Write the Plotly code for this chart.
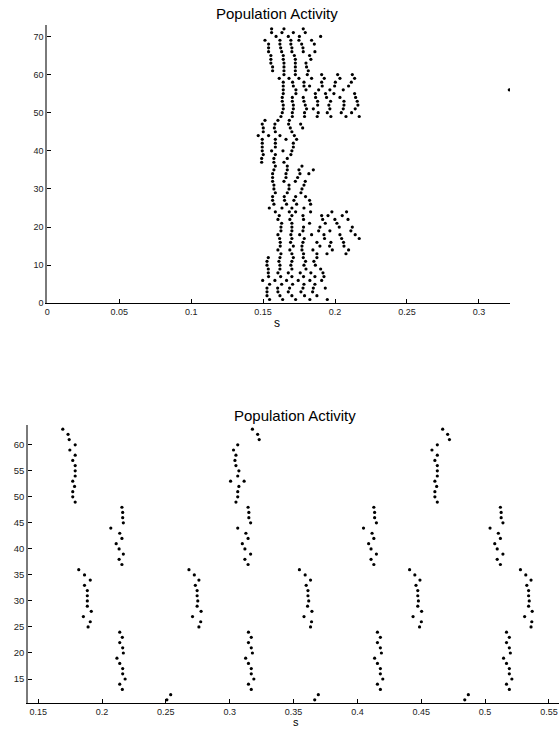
import plotly.graph_objects as go

# ---------------- Top panel: spike times (s) for neurons 1..72 ----------------
top_neurons = list(range(1, 73))
top_spike_times = [
    [0.1545, 0.1636, 0.1726, 0.1825, 0.1946],                  # 1
    [0.1527, 0.1617, 0.1700, 0.1788, 0.1874],                  # 2
    [0.1527, 0.1603, 0.1675, 0.1763, 0.1844],                  # 3
    [0.1527, 0.1601, 0.1684, 0.1777, 0.1849, 0.1932],          # 4
    [0.1545, 0.1629, 0.1705, 0.1784, 0.1860],                  # 5
    [0.1497, 0.1582, 0.1663, 0.1744, 0.1825, 0.1907],          # 6
    [0.1538, 0.1622, 0.1700, 0.1781, 0.1860, 0.1923],          # 7
    [0.1536, 0.1603, 0.1675, 0.1758, 0.1832, 0.1916],          # 8
    [0.1536, 0.1617, 0.1700, 0.1798, 0.1900],                  # 9
    [0.1527, 0.1617, 0.1693, 0.1784, 0.1863],                  # 10
    [0.1527, 0.1610, 0.1700, 0.1795, 0.1853],                  # 11
    [0.1536, 0.1617, 0.1710, 0.1779, 0.1874],                  # 12
    [0.1624, 0.1700, 0.1781, 0.1874, 0.1944, 0.2076],          # 13
    [0.1603, 0.1686, 0.1770, 0.1846, 0.1981, 0.2094],          # 14
    [0.1619, 0.1710, 0.1770, 0.1895, 0.1962, 0.2062],          # 15
    [0.1619, 0.1691, 0.1777, 0.1874, 0.1971, 0.2059],          # 16
    [0.1615, 0.1700, 0.1786, 0.1927, 0.2046, 0.2168],          # 17
    [0.1603, 0.1693, 0.1754, 0.1837, 0.1923, 0.2034, 0.2140],  # 18
    [0.1624, 0.1700, 0.1777, 0.1886, 0.1964, 0.2110],          # 19
    [0.1624, 0.1700, 0.1781, 0.1895, 0.2029, 0.2120],          # 20
    [0.1629, 0.1700, 0.1823, 0.1932, 0.2013],                  # 21
    [0.1603, 0.1686, 0.1781, 0.1914, 0.1999, 0.2090],          # 22
    [0.1612, 0.1700, 0.1777, 0.1907, 0.1951, 0.2050],          # 23
    [0.1585, 0.1682, 0.1726, 0.1830, 0.1978, 0.2080],          # 24
    [0.1543, 0.1631, 0.1700, 0.1784],                          # 25
    [0.1575, 0.1663, 0.1733, 0.1830],                          # 26
    [0.1566, 0.1649, 0.1714, 0.1823],                          # 27
    [0.1566, 0.1647, 0.1726, 0.1795],                          # 28
    [0.1585, 0.1668, 0.1763],                                  # 29
    [0.1575, 0.1680, 0.1770],                                  # 30
    [0.1575, 0.1680, 0.1784],                                  # 31
    [0.1566, 0.1645, 0.1724, 0.1793],                          # 32
    [0.1566, 0.1659, 0.1740],                                  # 33
    [0.1566, 0.1659, 0.1756, 0.1818],                          # 34
    [0.1575, 0.1668, 0.1749, 0.1849],                          # 35
    [0.1585, 0.1668, 0.1770],                                  # 36
    [0.1490, 0.1575, 0.1645],                                  # 37
    [0.1490, 0.1575, 0.1668],                                  # 38
    [0.1501, 0.1585, 0.1693],                                  # 39
    [0.1494, 0.1559, 0.1638, 0.1700],                          # 40
    [0.1494, 0.1585, 0.1710],                                  # 41
    [0.1494, 0.1585, 0.1710],                                  # 42
    [0.1494, 0.1585, 0.1659, 0.1733],                          # 43
    [0.1466, 0.1538, 0.1617, 0.1717],                          # 44
    [0.1501, 0.1585, 0.1700],                                  # 45
    [0.1501, 0.1578, 0.1689, 0.1775],                          # 46
    [0.1494, 0.1582, 0.1677, 0.1761],                          # 47
    [0.1513, 0.1603, 0.1682],                                  # 48
    [0.1624, 0.1703, 0.1788, 0.1876, 0.1971, 0.2076, 0.2168],  # 49
    [0.1633, 0.1703, 0.1788, 0.1883, 0.1946, 0.2043, 0.2115],  # 50
    [0.1640, 0.1710, 0.1802, 0.1849, 0.1964, 0.2057, 0.2140],  # 51
    [0.1640, 0.1710, 0.1793, 0.1879, 0.1957, 0.2062, 0.2159],  # 52
    [0.1633, 0.1703, 0.1784, 0.1879, 0.1969, 0.2062, 0.2154],  # 53
    [0.1633, 0.1703, 0.1779, 0.1865, 0.1941, 0.2034, 0.2143],  # 54
    [0.1640, 0.1728, 0.1863, 0.1934, 0.1992, 0.2136],          # 55
    [0.1640, 0.1728, 0.1798, 0.1886, 0.1964, 0.2057, 0.3211],  # 56
    [0.1640, 0.1710, 0.1784, 0.1823, 0.1911, 0.1997, 0.2094],  # 57
    [0.1640, 0.1705, 0.1784, 0.1907, 0.2002, 0.2113],          # 58
    [0.1612, 0.1680, 0.1749, 0.1837, 0.1925, 0.2034, 0.2136],  # 59
    [0.1645, 0.1724, 0.1807, 0.1907, 0.2018, 0.2120],          # 60
    [0.1566, 0.1645, 0.1724, 0.1814],                          # 61
    [0.1566, 0.1645, 0.1724, 0.1802],                          # 62
    [0.1554, 0.1645, 0.1724, 0.1798],                          # 63
    [0.1554, 0.1640, 0.1724, 0.1832],                          # 64
    [0.1554, 0.1640, 0.1717, 0.1823],                          # 65
    [0.1538, 0.1629, 0.1700, 0.1779, 0.1860],                  # 66
    [0.1538, 0.1622, 0.1700, 0.1777],                          # 67
    [0.1538, 0.1617, 0.1693, 0.1768, 0.1856],                  # 68
    [0.1513, 0.1617, 0.1693, 0.1749, 0.1837],                  # 69
    [0.1590, 0.1675, 0.1752, 0.1900],                          # 70
    [0.1559, 0.1631, 0.1710, 0.1793],                          # 71
    [0.1559, 0.1645, 0.1779],                                  # 72
]

# ---------------- Bottom panel: spike times (s) for neurons 11..63 ----------------
bottom_neurons = list(range(11, 64))
bottom_spike_times = [
    [0.2508, 0.3666, 0.4841],                  # 11
    [0.2538, 0.3694, 0.4869],                  # 12
    [0.2159, 0.3169, 0.4180, 0.5190],          # 13
    [0.2139, 0.3147, 0.4157, 0.5168],          # 14
    [0.2181, 0.3189, 0.4199, 0.5210],          # 15
    [0.2162, 0.3169, 0.4180, 0.5190],          # 16
    [0.2162, 0.3169, 0.4180, 0.5190],          # 17
    [0.2139, 0.3147, 0.4157, 0.5168],          # 18
    [0.2117, 0.3125, 0.4135, 0.5145],          # 19
    [0.2167, 0.3178, 0.4188, 0.5198],          # 20
    [0.2162, 0.3169, 0.4180, 0.5190],          # 21
    [0.2139, 0.3147, 0.4157, 0.5168],          # 22
    [0.2159, 0.3169, 0.4180, 0.5190],          # 23
    [0.2139, 0.3147, 0.4157, 0.5168],          # 24
    [0.1891, 0.2759, 0.3633, 0.4487, 0.5360],  # 25
    [0.1908, 0.2773, 0.3641, 0.4501, 0.5366],  # 26
    [0.1854, 0.2709, 0.3582, 0.4436, 0.5310],  # 27
    [0.1916, 0.2776, 0.3644, 0.4503, 0.5369],  # 28
    [0.1885, 0.2745, 0.3610, 0.4473, 0.5341],  # 29
    [0.1885, 0.2750, 0.3619, 0.4478, 0.5346],  # 30
    [0.1885, 0.2745, 0.3613, 0.4473, 0.5341],  # 31
    [0.1885, 0.2745, 0.3613, 0.4473, 0.5341],  # 32
    [0.1863, 0.2731, 0.3599, 0.4459, 0.5327],  # 33
    [0.1908, 0.2759, 0.3633, 0.4490, 0.5360],  # 34
    [0.1863, 0.2723, 0.3591, 0.4450, 0.5319],  # 35
    [0.1818, 0.2681, 0.3546, 0.4409, 0.5277],  # 36
    [0.2156, 0.3144, 0.4129, 0.5120],          # 37
    [0.2134, 0.3119, 0.4107, 0.5095],          # 38
    [0.2167, 0.3164, 0.4149, 0.5140],          # 39
    [0.2134, 0.3119, 0.4107, 0.5095],          # 40
    [0.2111, 0.3099, 0.4088, 0.5076],          # 41
    [0.2156, 0.3144, 0.4129, 0.5120],          # 42
    [0.2139, 0.3127, 0.4115, 0.5104],          # 43
    [0.2069, 0.3063, 0.4048, 0.5039],          # 44
    [0.2167, 0.3164, 0.4149, 0.5140],          # 45
    [0.2162, 0.3150, 0.4135, 0.5126],          # 46
    [0.2162, 0.3150, 0.4135, 0.5126],          # 47
    [0.2156, 0.3144, 0.4129, 0.5120],          # 48
    [0.1790, 0.3049, 0.4626],                  # 49
    [0.1771, 0.3063, 0.4607],                  # 50
    [0.1771, 0.3063, 0.4607],                  # 51
    [0.1785, 0.3072, 0.4621],                  # 52
    [0.1771, 0.3007, 0.3113, 0.4607],          # 53
    [0.1790, 0.3063, 0.4626],                  # 54
    [0.1790, 0.3072, 0.4626],                  # 55
    [0.1790, 0.3049, 0.4626],                  # 56
    [0.1771, 0.3041, 0.4607],                  # 57
    [0.1790, 0.3049, 0.4626],                  # 58
    [0.1748, 0.3030, 0.4584],                  # 59
    [0.1790, 0.3063, 0.4626],                  # 60
    [0.1743, 0.3231, 0.4721],                  # 61
    [0.1734, 0.3219, 0.4707],                  # 62
    [0.1693, 0.3178, 0.4668],                  # 63
]

top_xticks = [0, 0.05, 0.1, 0.15, 0.2, 0.25, 0.3]
top_yticks = [0, 10, 20, 30, 40, 50, 60, 70]
bottom_xticks = [0.15, 0.2, 0.25, 0.3, 0.35, 0.4, 0.45, 0.5, 0.55]
bottom_yticks = [15, 20, 25, 30, 35, 40, 45, 50, 55, 60]
title_text = "Population Activity"
xlabel_text = "s"


def flatten(neurons, times):
    xs, ys = [], []
    for n, ts in zip(neurons, times):
        for t in ts:
            xs.append(t)
            ys.append(n)
    return xs, ys


tx, ty = flatten(top_neurons, top_spike_times)
bx, by = flatten(bottom_neurons, bottom_spike_times)

W, H = 559, 729
FONT = "Liberation Sans, Arial, Helvetica, sans-serif"

fig = go.Figure()
marker = dict(color="black", size=3.2, symbol="circle", line=dict(width=0))
fig.add_trace(go.Scatter(x=tx, y=ty, mode="markers", marker=marker,
                         xaxis="x", yaxis="y", showlegend=False, hoverinfo="x+y"))
fig.add_trace(go.Scatter(x=bx, y=by, mode="markers", marker=marker,
                         xaxis="x2", yaxis="y2", showlegend=False, hoverinfo="x+y"))


def px_x(p):
    return p / W


def px_y(p):
    return 1 - p / H


def xaxis_style(size):
    return dict(showgrid=False, zeroline=False, showline=True, linecolor="black",
                linewidth=1.3, ticks="inside", ticklen=4, tickcolor="black",
                tickwidth=1, tickfont=dict(size=size, color="#222", family=FONT),
                automargin=False, mirror=False)


def yaxis_style(size):
    return dict(showgrid=False, zeroline=False, showline=True, linecolor="#7a7a7a",
                linewidth=1.8, ticks="inside", ticklen=4, tickcolor="black",
                tickwidth=1, tickfont=dict(size=size, color="#222", family=FONT),
                automargin=False, mirror=False)


fig.update_layout(
    width=W, height=H,
    margin=dict(l=0, r=0, t=0, b=0),
    paper_bgcolor="white", plot_bgcolor="white",
    font=dict(family=FONT, color="black"),
    xaxis=dict(xaxis_style(9), domain=[px_x(47.3), px_x(510)], range=[0, 0.3216],
               tickvals=top_xticks, anchor="y"),
    yaxis=dict(yaxis_style(9), domain=[px_y(303.3), px_y(25)], range=[0, 73],
               tickvals=top_yticks, anchor="x"),
    xaxis2=dict(xaxis_style(9), domain=[px_x(28.2), 1.0], range=[0.1422, 0.5579],
                tickvals=bottom_xticks, anchor="y2"),
    yaxis2=dict(yaxis_style(9.5), domain=[px_y(702.7), px_y(425)], range=[10.45, 63.8],
                tickvals=bottom_yticks, anchor="x2"),
    annotations=[
        dict(text=title_text, x=px_x(277.3), y=px_y(14), xref="paper", yref="paper",
             showarrow=False, xanchor="center", yanchor="middle",
             font=dict(size=15, family=FONT, color="black")),
        dict(text=xlabel_text, x=px_x(276.7), y=px_y(322.5), xref="paper", yref="paper",
             showarrow=False, xanchor="center", yanchor="middle",
             font=dict(size=12, family=FONT, color="black")),
        dict(text=title_text, x=px_x(295), y=px_y(415), xref="paper", yref="paper",
             showarrow=False, xanchor="center", yanchor="middle",
             font=dict(size=15, family=FONT, color="black")),
        dict(text=xlabel_text, x=px_x(296), y=px_y(722), xref="paper", yref="paper",
             showarrow=False, xanchor="center", yanchor="middle",
             font=dict(size=11, family=FONT, color="black")),
    ],
)

fig.write_html("out.html")
